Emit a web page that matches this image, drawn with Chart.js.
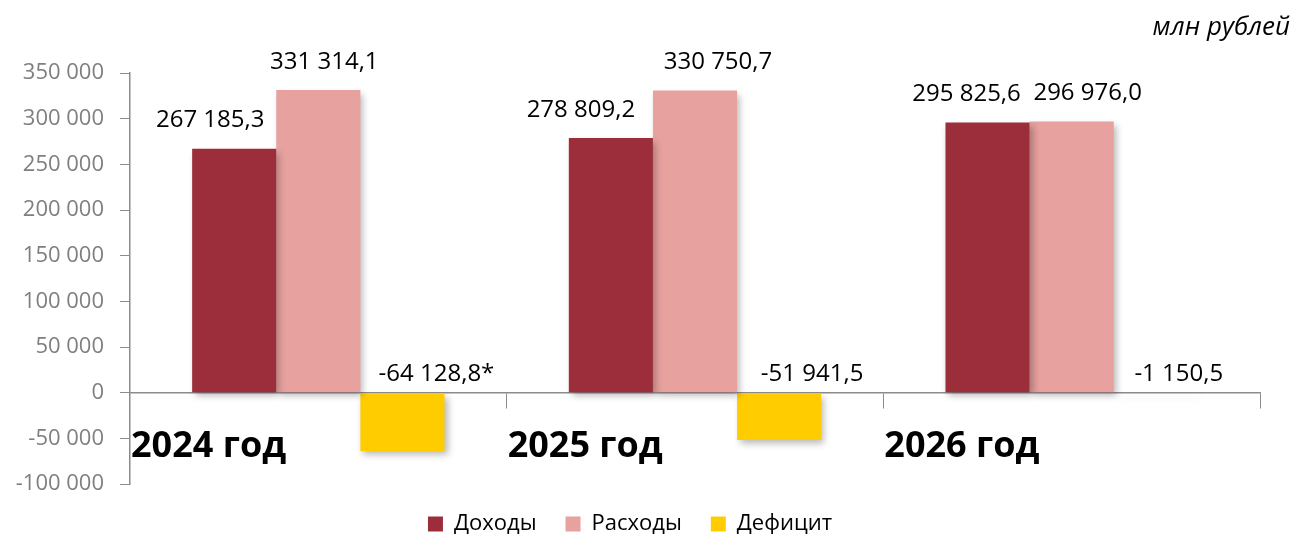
<!DOCTYPE html>
<html>
<head>
<meta charset="utf-8">
<script src="https://cdn.jsdelivr.net/npm/chart.js@4.4.0/dist/chart.umd.min.js"></script>
<style>
  html, body { margin: 0; padding: 0; background: #fff; }
  #wrap { width: 1297px; height: 534px; }
</style>
</head>
<body>
<div id="wrap"><canvas id="Canvas-budget"></canvas></div>
<script>
//______________________________________________________
var Categories = ['2024 год', '2025 год', '2026 год'];
var Income     = [267185.3, 278809.2, 295825.6];
var Expenses   = [331314.1, 330750.7, 296976.0];
var Deficit    = [-64128.8, -51941.5, -1150.5];
var DeficitNotes = ['*', '', ''];
var YTicks     = [-100000, -50000, 0, 50000, 100000, 150000, 200000, 250000, 300000, 350000];
const UnitText = 'млн рублей';

const ColIncome  = '#9b2e3a';
const ColExpense = '#e7a19f';
const ColDeficit = '#ffcc00';
const AxisColor  = '#8c8c8c';
const FontFam    = '"Open Sans", sans-serif';

// horizontal nudge of each value label (the source chart has them off-centre)
const LabelShift = [[-24, -30, -21], [6, 23, 16], [34, 33, 23]];

//______________________________________________________
function fmtNum (v, decimals) { // 267185.3 -> "267 185,3"
    var s = Math.abs(v).toFixed(decimals);
    var parts = s.split('.');
    var intPart = parts[0].replace(/\B(?=(\d{3})+(?!\d))/g, ' ');
    var out = (v < 0 ? '-' : '') + intPart;
    if (parts[1]) out += ',' + parts[1];
    return out;
}
//______________________________________________________
var shadowPlugin = {
    id: 'barShadow',
    beforeDatasetDraw (chart) {
        var ctx = chart.ctx;
        ctx.save();
        ctx.shadowColor = 'rgba(0,0,0,0.28)';
        ctx.shadowBlur = 7;
        ctx.shadowOffsetX = 3;
        ctx.shadowOffsetY = 4;
    },
    afterDatasetDraw (chart) {
        chart.ctx.restore();
    }
};
//______________________________________________________
var labelsPlugin = {
    id: 'valueLabels',
    afterDatasetsDraw (chart) {
        var ctx = chart.ctx;
        var yScale = chart.scales.y;
        var zero = yScale.getPixelForValue(0);
        ctx.save();
        ctx.fillStyle = '#000';
        ctx.font = '24px ' + FontFam;
        ctx.textAlign = 'center';
        ctx.textBaseline = 'middle';
        chart.data.datasets.forEach(function (ds, di) {
            var meta = chart.getDatasetMeta(di);
            meta.data.forEach(function (bar, i) {
                var v = ds.data[i];
                var txt = fmtNum(v, 1) + (di === 2 ? DeficitNotes[i] : '');
                var y = v >= 0 ? bar.y - 28 : zero - 19;
                ctx.fillText(txt, bar.x + LabelShift[di][i], y);
            });
        });
        // category names, bold, at the left of each group below zero
        var xScale = chart.scales.x;
        var catW = (xScale.right - xScale.left) / Categories.length;
        ctx.font = 'bold 36px ' + FontFam;
        ctx.textAlign = 'left';
        Categories.forEach(function (c, i) {
            ctx.fillText(c, xScale.left + catW * i + 1, 447);
        });
        // units
        ctx.font = 'italic 26px ' + FontFam;
        ctx.textAlign = 'right';
        ctx.fillText(UnitText, 1290, 28);
        ctx.restore();
    }
};
//______________________________________________________
function initChart () {
    new Chart('Canvas-budget', {
        type: 'bar',
        data: {
            labels: Categories,
            datasets: [
                { label: 'Доходы',  data: Income,   backgroundColor: ColIncome },
                { label: 'Расходы', data: Expenses, backgroundColor: ColExpense },
                { label: 'Дефицит', data: Deficit,  backgroundColor: ColDeficit }
            ]
        },
        options: {
            responsive: true,
            maintainAspectRatio: false,
            animation: false,
            datasets: { bar: { categoryPercentage: 0.67, barPercentage: 1.0 } },
            layout: { padding: { left: 0, right: 37, top: 73, bottom: -11 } },
            plugins: {
                legend: {
                    position: 'bottom',
                    labels: {
                        boxWidth: 15, boxHeight: 15, padding: 29,
                        color: '#000',
                        font: { family: FontFam, size: 22 }
                    }
                },
                tooltip: { enabled: false }
            },
            scales: {
                x: {
                    position: { y: 0 },
                    ticks: { display: false },
                    grid: { display: true, drawOnChartArea: false, offset: true, tickLength: 15, color: AxisColor },
                    border: { color: AxisColor, width: 1.5 }
                },
                y: {
                    min: -100000, max: 350000,
                    afterBuildTicks (scale) { scale.ticks = YTicks.map(function (v) { return { value: v }; }); },
                    afterFit (scale) { scale.width = 130; },
                    ticks: {
                        color: '#7f7f7f', padding: 16,
                        font: { family: FontFam, size: 22 },
                        callback: function (v) { return fmtNum(v, 0); }
                    },
                    grid: { display: true, drawOnChartArea: false, tickLength: 10, color: AxisColor },
                    border: { color: AxisColor, width: 1.5 }
                }
            }
        },
        plugins: [shadowPlugin, labelsPlugin]
    });
}
initChart();
//______________________________________________________
</script>
</body>
</html>
